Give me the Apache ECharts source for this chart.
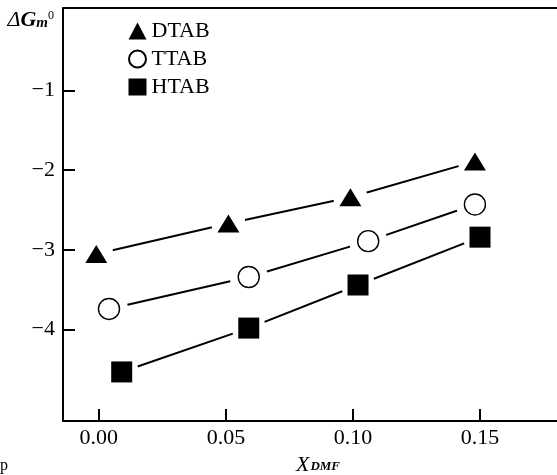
<!DOCTYPE html>
<html>
<head>
<meta charset="utf-8">
<script src="https://cdn.jsdelivr.net/npm/echarts@6/dist/echarts.min.js"></script>
<style>
  html, body { margin: 0; padding: 0; background: #fff; }
  #chart { width: 557px; height: 475px; }
</style>
</head>
<body>
<div id="chart"></div>
<script>
// Micellization free energy vs. DMF mole fraction for three surfactants
const xTicks = [0, 0.05, 0.10, 0.15];
const yTicks = [-1, -2, -3, -4];

const seriesNames = ['DTAB', 'TTAB', 'HTAB'];

const xDTAB = [-0.001, 0.051, 0.099, 0.148];
const gDTAB = [-3.05, -2.67, -2.34, -1.89];

const xTTAB = [0.004, 0.059, 0.106, 0.148];
const gTTAB = [-3.74, -3.34, -2.89, -2.43];

const xHTAB = [0.009, 0.059, 0.102, 0.150];
const gHTAB = [-4.53, -3.98, -3.44, -2.84];

const pairs = (xs, ys) => xs.map((x, i) => [x, ys[i]]);
const dataSets = [pairs(xDTAB, gDTAB), pairs(xTTAB, gTTAB), pairs(xHTAB, gHTAB)];

const SERIF = "'Liberation Serif', 'DejaVu Serif', serif";

// marker look per compound
const markerStyle = [
  { symbol: 'triangle', size: [22, 18], item: { color: '#000', opacity: 1 }, gap: 34 },
  { symbol: 'circle', size: 21, item: { color: '#fff', borderColor: '#000', borderWidth: 1.4, opacity: 1 }, gap: 38 },
  { symbol: 'rect', size: 21, item: { color: '#000', opacity: 1 }, gap: 34 }
];

const series = [];
// connecting lines
dataSets.forEach((d, i) => {
  series.push({
    name: seriesNames[i] + ' line',
    type: 'line',
    data: d,
    symbol: 'none',
    z: 2,
    silent: true,
    lineStyle: { color: '#000', width: 2 }
  });
});
// white halos that open small gaps in the lines around each marker
dataSets.forEach((d, i) => {
  series.push({
    name: seriesNames[i] + ' halo',
    type: 'scatter',
    data: d,
    symbol: 'circle',
    symbolSize: markerStyle[i].gap,
    z: 3,
    silent: true,
    itemStyle: { color: '#fff', opacity: 1 }
  });
});
// markers
dataSets.forEach((d, i) => {
  series.push({
    name: seriesNames[i],
    type: 'scatter',
    data: d,
    symbol: markerStyle[i].symbol,
    symbolSize: markerStyle[i].size,
    z: 4,
    itemStyle: markerStyle[i].item
  });
});

const chart = echarts.init(document.getElementById('chart'), null, { renderer: 'canvas' });
chart.setOption({
  animation: false,
  backgroundColor: '#fff',
  grid: { left: 63, right: 0, top: 8, bottom: 54, containLabel: false, outerBoundsMode: 'none' },
  legend: {
    orient: 'vertical',
    left: 128,
    top: 20,
    padding: 0,
    itemWidth: 18,
    itemHeight: 17,
    itemGap: 6,
    itemTextGap: 20,
    selectedMode: false,
    textStyle: { fontFamily: SERIF, fontSize: 22, color: '#000' },
    data: [
      { name: 'DTAB', icon: 'triangle' },
      { name: 'TTAB', icon: 'circle' },
      { name: 'HTAB', icon: 'rect' }
    ]
  },
  xAxis: [
    {
      type: 'value',
      position: 'bottom',
      min: -0.0141,
      max: 0.1803,
      name: '{x|X}{s|DMF}',
      nameLocation: 'middle',
      nameGap: 33,
      nameTextStyle: {
        padding: [0, 0, 0, 16],
        rich: {
          x: { fontFamily: SERIF, fontStyle: 'italic', fontSize: 22, color: '#000', verticalAlign: 'bottom' },
          s: { fontFamily: SERIF, fontStyle: 'italic', fontWeight: 'bold', fontSize: 13, color: '#000', verticalAlign: 'bottom', padding: [0, 0, 3, 1] }
        }
      },
      axisLine: { show: true, onZero: false, lineStyle: { color: '#000', width: 2 } },
      axisTick: { show: true, inside: true, length: 12, customValues: xTicks, lineStyle: { color: '#000', width: 2 } },
      axisLabel: {
        customValues: xTicks,
        formatter: v => v.toFixed(2),
        fontFamily: SERIF,
        fontSize: 22,
        color: '#000',
        margin: 6
      },
      splitLine: { show: false }
    },
    {
      type: 'value',
      position: 'top',
      min: -0.0141,
      max: 0.1803,
      axisLine: { show: true, onZero: false, lineStyle: { color: '#000', width: 2 } },
      axisTick: { show: false },
      axisLabel: { show: false },
      splitLine: { show: false }
    }
  ],
  yAxis: {
    type: 'value',
    min: -5.145,
    max: 0.033,
    name: '{d|Δ}{g|G}{m|m}{o|0}',
    nameLocation: 'end',
    nameGap: -12,
    nameTextStyle: {
      align: 'right',
      verticalAlign: 'middle',
      padding: [0, 9, 0, 0],
      rich: {
        d: { fontFamily: SERIF, fontStyle: 'italic', fontSize: 22, color: '#000', verticalAlign: 'bottom' },
        g: { fontFamily: SERIF, fontStyle: 'italic', fontWeight: 'bold', fontSize: 22, color: '#000', verticalAlign: 'bottom' },
        m: { fontFamily: SERIF, fontStyle: 'italic', fontWeight: 'bold', fontSize: 15, color: '#000', verticalAlign: 'bottom', padding: [0, 0, 0, 0] },
        o: { fontFamily: SERIF, fontSize: 12, color: '#000', verticalAlign: 'bottom', padding: [0, 0, 9, 0] }
      }
    },
    axisLine: { show: true, onZero: false, lineStyle: { color: '#000', width: 2 } },
    axisTick: { show: true, inside: true, length: 12, customValues: yTicks, lineStyle: { color: '#000', width: 2 } },
    axisLabel: {
      customValues: yTicks,
      formatter: v => '\u2212' + Math.abs(v),
      fontFamily: SERIF,
      fontSize: 22,
      color: '#000',
      margin: 8
    },
    splitLine: { show: false }
  },
  graphic: [
    { type: 'text', left: 0, top: 458, style: { text: 'p', font: "16px 'Liberation Serif', serif", fill: '#000' } }
  ],
  series: series
});
</script>
</body>
</html>
